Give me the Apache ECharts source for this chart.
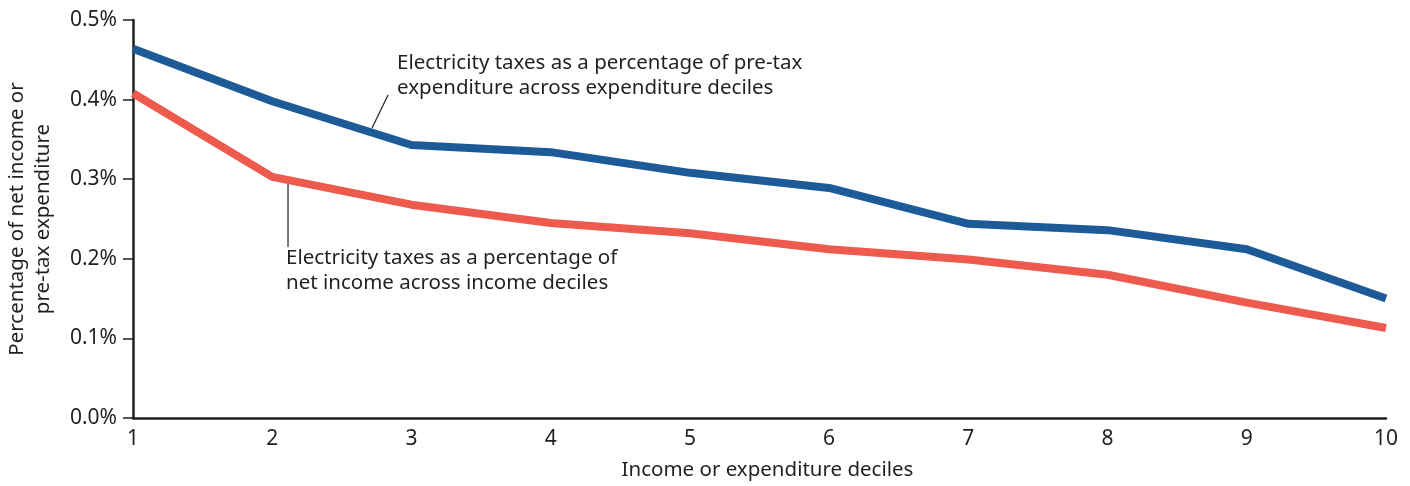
<!DOCTYPE html>
<html>
<head>
<meta charset="utf-8">
<script src="https://cdn.jsdelivr.net/npm/echarts@6/dist/echarts.min.js"></script>
<style>
  html, body { margin: 0; padding: 0; background: #fff; }
  #chart { width: 1410px; height: 486px; }
</style>
</head>
<body>
<div id="chart"></div>
<script>
// data
const deciles = ['1', '2', '3', '4', '5', '6', '7', '8', '9', '10'];
const expenditureShare = [0.464, 0.398, 0.343, 0.334, 0.308, 0.289, 0.244, 0.236, 0.212, 0.150];
const incomeShare = [0.408, 0.303, 0.268, 0.245, 0.232, 0.212, 0.199, 0.180, 0.145, 0.113];

const blueLabel = ['Electricity taxes as a percentage of pre-tax', 'expenditure across expenditure deciles'];
const redLabel = ['Electricity taxes as a percentage of', 'net income across income deciles'];

const font = 'Noto Sans';
const ink = '#231f20';

const chart = echarts.init(document.getElementById('chart'));

chart.setOption({
  animation: false,
  textStyle: { fontFamily: font },
  grid: { left: 133, right: 24, top: 20, bottom: 68, containLabel: false, outerBoundsMode: 'none' },
  xAxis: {
    type: 'category',
    data: deciles,
    boundaryGap: false,
    name: 'Income or expenditure deciles',
    nameLocation: 'middle',
    nameGap: 42,
    nameTextStyle: { fontSize: 20.5, color: ink, fontFamily: font, padding: [0, 0, 0, 16] },
    axisLine: { lineStyle: { color: ink, width: 2.5 } },
    axisTick: { show: false },
    axisLabel: { fontSize: 21, color: ink, margin: 11, fontFamily: font }
  },
  yAxis: {
    type: 'value',
    min: 0,
    max: 0.5,
    interval: 0.1,
    name: 'Percentage of net income or\npre-tax expenditure',
    nameLocation: 'middle',
    nameGap: 77,
    nameTextStyle: { fontSize: 20.5, color: ink, lineHeight: 26, fontFamily: font },
    splitLine: { show: false },
    axisLine: { show: true, lineStyle: { color: ink, width: 2.5 } },
    axisTick: { show: true, length: 10, lineStyle: { color: ink, width: 1.5 } },
    axisLabel: {
      fontSize: 21, color: ink, margin: 16, fontFamily: font,
      formatter: v => v.toFixed(1) + '%'
    }
  },
  series: [
    {
      name: 'expenditure',
      type: 'line',
      data: expenditureShare,
      symbol: 'none',
      lineStyle: { color: '#1c5a98', width: 8 }
    },
    {
      name: 'income',
      type: 'line',
      data: incomeShare,
      symbol: 'none',
      lineStyle: { color: '#ef5a4e', width: 8 }
    }
  ]
});

// annotation anchors: fractional category index + value, mapped through the axes
function px(i, v) {
  const a = chart.convertToPixel({ gridIndex: 0 }, [0, v]);
  const b = chart.convertToPixel({ gridIndex: 0 }, [1, v]);
  return [a[0] + (b[0] - a[0]) * i, a[1]];
}

const bTop = px(1.832, 0.4058);
const bBot = px(1.717, 0.3643);
const bText = px(1.897, 0.4617);
const rTop = px(1.1135, 0.2965);
const rBot = px(1.1135, 0.2148);
const rText = px(1.099, 0.2167);

chart.setOption({
  graphic: [
    { type: 'line', shape: { x1: bTop[0], y1: bTop[1], x2: bBot[0], y2: bBot[1] }, style: { stroke: ink, lineWidth: 1.2 } },
    { type: 'line', shape: { x1: rTop[0], y1: rTop[1], x2: rBot[0], y2: rBot[1] }, style: { stroke: ink, lineWidth: 1.2 } },
    { type: 'text', x: bText[0], y: bText[1], style: { text: blueLabel.join('\n'), font: '20.5px "' + font + '"', fill: ink, lineHeight: 25 } },
    { type: 'text', x: rText[0], y: rText[1], style: { text: redLabel.join('\n'), font: '20.5px "' + font + '"', fill: ink, lineHeight: 25 } }
  ]
});
</script>
</body>
</html>
